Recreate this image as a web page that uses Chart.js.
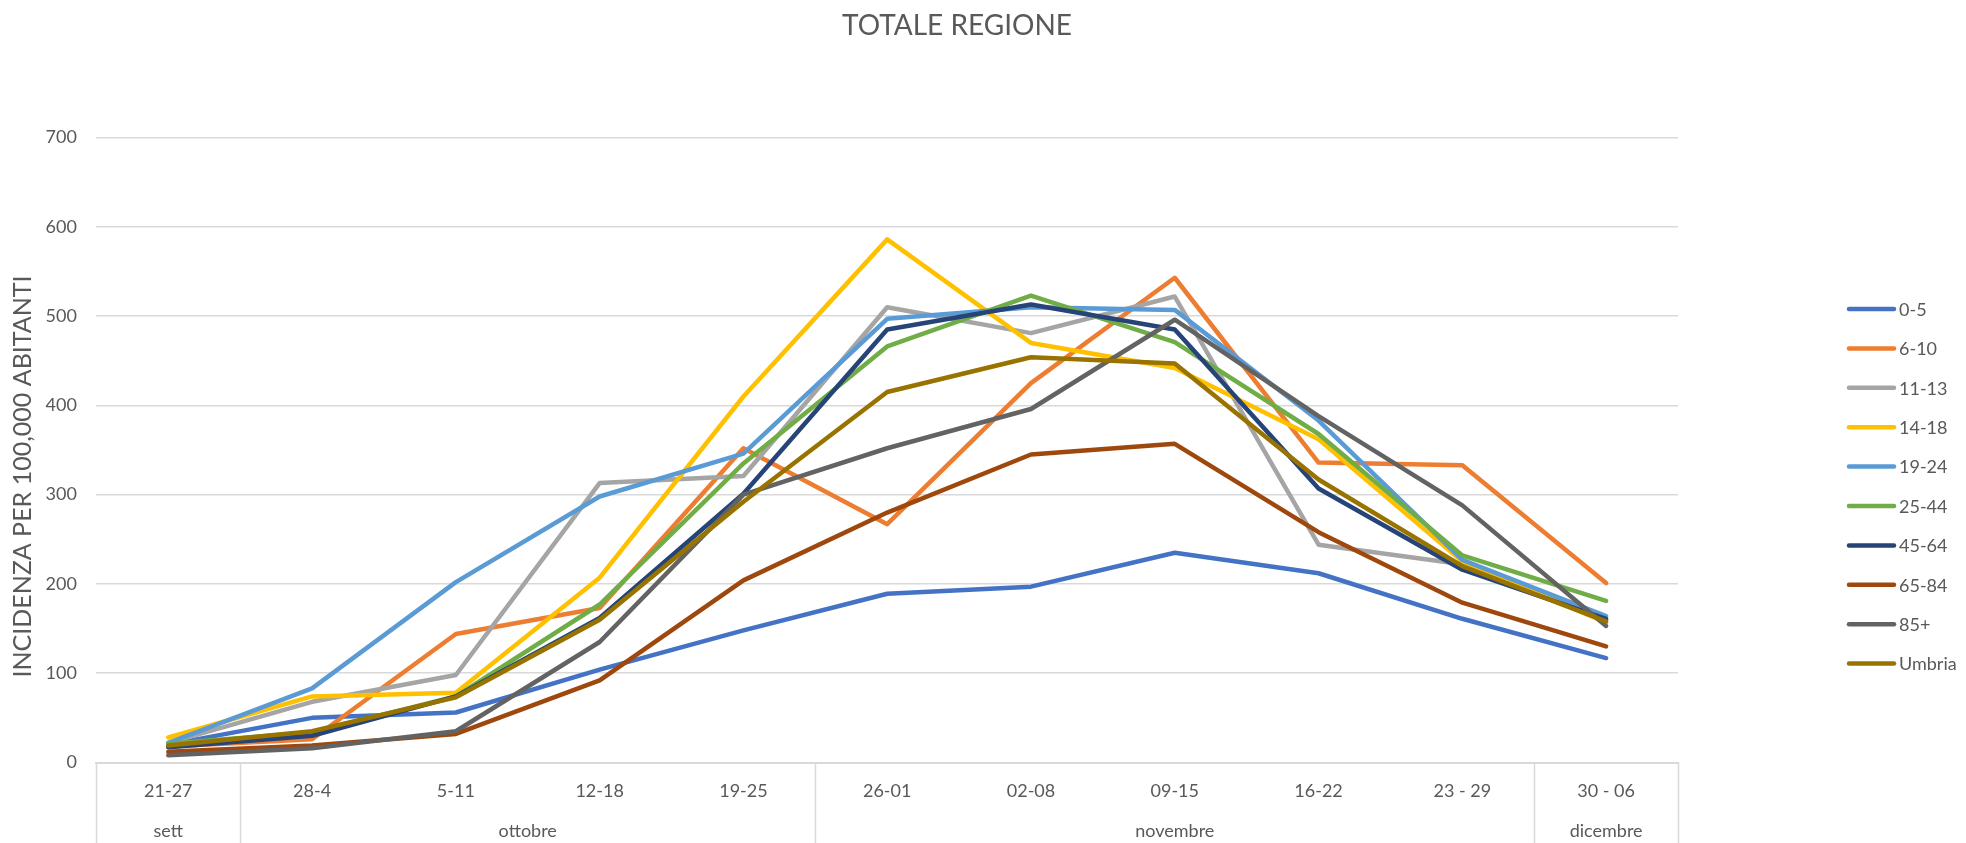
<!DOCTYPE html>
<html><head><meta charset="utf-8">
<script src="https://cdn.jsdelivr.net/npm/chart.js@4.4.1/dist/chart.umd.min.js"></script>
<style>html,body{margin:0;padding:0;background:#fff;}canvas{display:block;}</style>
</head><body>
<canvas id="c" width="1966" height="843"></canvas>
<script>
const categories = ['21-27','28-4','5-11','12-18','19-25','26-01','02-08','09-15','16-22','23 - 29','30 - 06'];
const monthLabels = ['sett','ottobre','novembre','dicembre'];
const monthSpans = [1, 4, 5, 1];
const yTicks = [0, 100, 200, 300, 400, 500, 600, 700];

const seriesNames = ['0-5','6-10','11-13','14-18','19-24','25-44','45-64','65-84','85+','Umbria'];
const age0_5   = [20, 50, 56, 104, 148, 189, 197, 235, 212, 161, 117];
const age6_10  = [18, 26, 144, 173, 352, 267, 425, 543, 336, 333, 201];
const age11_13 = [22, 68, 98, 313, 321, 510, 481, 522, 244, 222, 160];
const age14_18 = [28, 74, 78, 207, 410, 586, 470, 442, 362, 225, 157];
const age19_24 = [22, 83, 202, 298, 346, 497, 510, 507, 383, 227, 164];
const age25_44 = [21, 34, 74, 177, 335, 466, 523, 471, 368, 232, 181];
const age45_64 = [17, 30, 74, 162, 301, 485, 513, 485, 307, 216, 161];
const age65_84 = [12, 19, 32, 92, 204, 280, 345, 357, 258, 179, 130];
const age85p   = [8, 16, 35, 135, 300, 352, 396, 496, 388, 288, 153];
const umbria   = [19, 35, 73, 160, 292, 415, 454, 447, 317, 220, 158];
const seriesColors = ['#4472C4','#ED7D31','#A5A5A5','#FFC000','#5B9BD5','#70AD47','#264478','#9E480E','#636363','#997300'];

const seriesValues = [age0_5, age6_10, age11_13, age14_18, age19_24, age25_44, age45_64, age65_84, age85p, umbria];
const chartTitle = 'TOTALE REGIONE';
const yTitle = 'INCIDENZA PER 100,000 ABITANTI';
const FONT = 'Lato';
const TXT = '#595959';
const GRID = '#D9D9D9';

const datasets = seriesNames.map((name, i) => ({
  label: name,
  data: seriesValues[i],
  borderColor: seriesColors[i],
  backgroundColor: seriesColors[i],
  borderWidth: 4.5,
  pointRadius: 0,
  pointHoverRadius: 0,
  tension: 0,
  fill: false,
  borderJoinStyle: 'round',
  borderCapStyle: 'round',
  order: seriesNames.length - i
}));

const groupAxisPlugin = {
  id: 'groupAxis',
  afterDraw(chart) {
    const {ctx, chartArea} = chart;
    const x = chart.scales.x;
    const step = x.getPixelForValue(1) - x.getPixelForValue(0);
    const y0 = chartArea.bottom;
    ctx.save();
    ctx.strokeStyle = GRID;
    ctx.lineWidth = 1.5;
    ctx.fillStyle = TXT;
    ctx.font = '18px ' + FONT;
    ctx.textAlign = 'center';
    ctx.textBaseline = 'middle';
    const edges = [x.getPixelForValue(0) - step / 2];
    let idx = 0;
    monthSpans.forEach((span, k) => {
      const left = x.getPixelForValue(idx) - step / 2;
      const right = x.getPixelForValue(idx + span - 1) + step / 2;
      edges.push(right);
      ctx.fillText(monthLabels[k], (left + right) / 2, 831);
      idx += span;
    });
    edges.forEach(e => {
      ctx.beginPath();
      ctx.moveTo(Math.round(e) + 0.5, y0);
      ctx.lineTo(Math.round(e) + 0.5, chart.height);
      ctx.stroke();
    });
    // y axis title
    ctx.save();
    ctx.translate(23, 476.5);
    ctx.rotate(-Math.PI / 2);
    ctx.font = '25px ' + FONT;
    ctx.fillText(yTitle, 0, 0);
    ctx.restore();
    ctx.restore();
  }
};

const legendPlugin = {
  id: 'sideLegend',
  afterDraw(chart) {
    const {ctx} = chart;
    ctx.save();
    ctx.font = '18px ' + FONT;
    ctx.textAlign = 'left';
    ctx.textBaseline = 'middle';
    chart.data.datasets.forEach((ds, i) => {
      const y = 309 + i * 39.4;
      ctx.strokeStyle = ds.borderColor;
      ctx.lineWidth = 4.5;
      ctx.lineCap = 'round';
      ctx.beginPath();
      ctx.moveTo(1849, y);
      ctx.lineTo(1894, y);
      ctx.stroke();
      ctx.fillStyle = TXT;
      ctx.fillText(ds.label, 1899, y + 1);
    });
    ctx.restore();
  }
};

new Chart(document.getElementById('c'), {
  type: 'line',
  data: { labels: categories, datasets },
  options: {
    responsive: false,
    devicePixelRatio: 1,
    animation: false,
    layout: { padding: { left: 0, right: 52, top: 0, bottom: 0 } },
    plugins: {
      legend: { display: false },
      tooltip: { enabled: false },
      title: {
        display: true,
        text: chartTitle,
        color: TXT,
        font: { family: FONT, size: 28, weight: 'normal' },
        padding: { top: 9, bottom: 95 }
      }
    },
    scales: {
      x: {
        type: 'category',
        offset: true,
        grid: { display: false, drawTicks: false },
        border: { display: true, color: GRID, width: 2 },
        ticks: { color: TXT, font: { family: FONT, size: 18 }, padding: 18, maxRotation: 0, autoSkip: false },
        afterFit: s => { s.height = 80.5; }
      },
      y: {
        min: 0, max: 700,
        afterBuildTicks: s => { s.ticks = yTicks.map(v => ({ value: v })); },
        grid: { color: GRID, lineWidth: 1.5, drawTicks: false },
        border: { display: false },
        ticks: { color: TXT, font: { family: FONT, size: 18 }, padding: 19.5 },
        afterFit: s => { s.width = 96.4; }
      },
      yR: {
        position: 'right',
        display: true,
        grid: { display: false, drawTicks: false },
        border: { display: false },
        ticks: { display: false },
        afterFit: s => { s.width = 236; }
      }
    }
  },
  plugins: [groupAxisPlugin, legendPlugin]
});
</script>
</body></html>
